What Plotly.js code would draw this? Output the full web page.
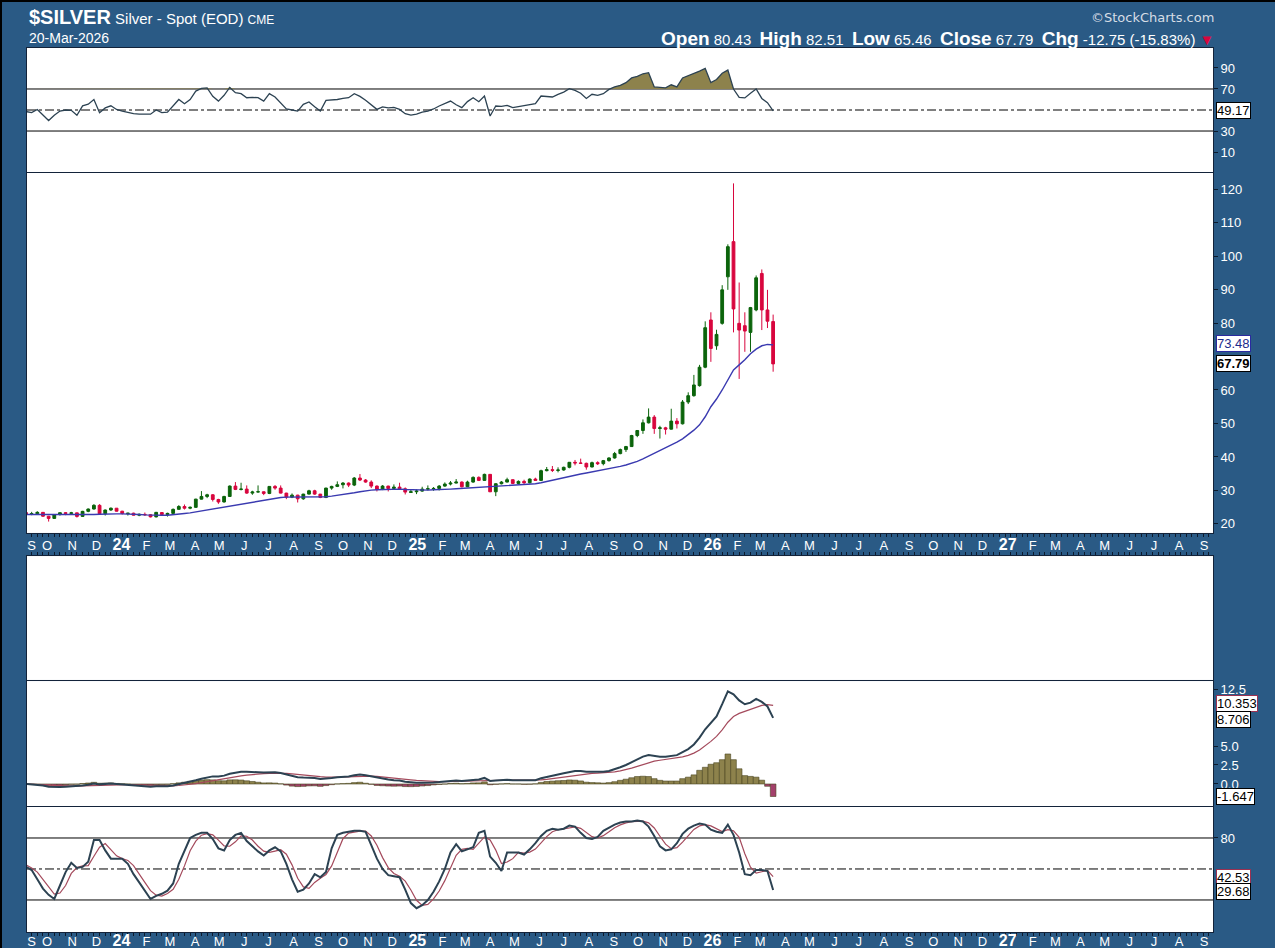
<!DOCTYPE html>
<html><head><meta charset="utf-8">
<script src="https://cdn.plot.ly/plotly-3.0.1.min.js"></script>
<style>
html,body{margin:0;padding:0;background:#000;overflow:hidden;}
#chart{position:absolute;left:0;top:0;width:1273px;height:946px;border-top:2px solid #000;border-left:2px solid #000;}
</style></head><body><div id="chart"></div>
<script>
// Weekly bars (Friday dates)
const weeks = ['2023-09-08','2023-09-15','2023-09-22','2023-09-29','2023-10-06','2023-10-13','2023-10-20','2023-10-27','2023-11-03','2023-11-10','2023-11-17','2023-11-24','2023-12-01','2023-12-08','2023-12-15','2023-12-22','2023-12-29',
'2024-01-05','2024-01-12','2024-01-19','2024-01-26','2024-02-02','2024-02-09','2024-02-16','2024-02-23','2024-03-01','2024-03-08','2024-03-15','2024-03-22','2024-03-29','2024-04-05','2024-04-12','2024-04-19','2024-04-26','2024-05-03','2024-05-10','2024-05-17','2024-05-24','2024-05-31','2024-06-07','2024-06-14','2024-06-21','2024-06-28','2024-07-05','2024-07-12','2024-07-19','2024-07-26','2024-08-02','2024-08-09','2024-08-16','2024-08-23','2024-08-30','2024-09-06','2024-09-13','2024-09-20','2024-09-27','2024-10-04','2024-10-11','2024-10-18','2024-10-25','2024-11-01','2024-11-08','2024-11-15','2024-11-22','2024-11-29','2024-12-06','2024-12-13','2024-12-20','2024-12-27',
'2025-01-03','2025-01-10','2025-01-17','2025-01-24','2025-01-31','2025-02-07','2025-02-14','2025-02-21','2025-02-28','2025-03-07','2025-03-14','2025-03-21','2025-03-28','2025-04-04','2025-04-11','2025-04-18','2025-04-25','2025-05-02','2025-05-09','2025-05-16','2025-05-23','2025-05-30','2025-06-06','2025-06-13','2025-06-20','2025-06-27','2025-07-04','2025-07-11','2025-07-18','2025-07-25','2025-08-01','2025-08-08','2025-08-15','2025-08-22','2025-08-29','2025-09-05','2025-09-12','2025-09-19','2025-09-26','2025-10-03','2025-10-10','2025-10-17','2025-10-24','2025-10-31','2025-11-07','2025-11-14','2025-11-21','2025-11-28','2025-12-05','2025-12-12','2025-12-19','2025-12-26',
'2026-01-02','2026-01-09','2026-01-16','2026-01-23','2026-01-30','2026-02-06','2026-02-13','2026-02-20','2026-02-27','2026-03-06','2026-03-13','2026-03-20'];

const openP = [23.40,22.90,23.05,23.45,22.30,21.65,22.80,23.35,23.15,23.30,
22.25,23.75,24.45,25.55,23.05,24.15,24.70,23.80,23.05,23.20,
22.60,22.85,22.75,22.10,23.40,22.80,23.15,24.35,25.20,24.70,
24.95,27.40,28.20,28.70,27.30,26.55,28.20,31.30,30.30,30.40,
29.20,29.55,29.60,29.10,31.20,30.70,29.20,28.00,28.60,27.50,
28.90,29.90,28.90,27.90,30.70,31.20,31.70,32.20,31.60,33.70,
33.10,32.50,31.30,30.30,31.30,30.60,31.00,30.50,29.40,29.60,
29.80,30.40,30.50,30.60,31.30,31.90,32.20,32.50,31.10,32.50,
33.90,33.00,34.80,29.60,32.00,32.50,33.20,32.10,32.70,32.30,
33.40,33.00,35.90,36.20,36.00,36.10,36.90,38.40,38.20,38.10,
37.00,38.30,38.00,38.90,39.70,41.00,42.20,43.10,46.40,47.90,
50.20,51.90,48.50,48.70,48.30,50.70,49.90,56.40,58.30,61.30,
66.80,80.90,73.20,79.90,93.80,104.30,79.90,79.20,77.20,83.90,
94.80,83.90,80.43];
const highP = [24.00,23.60,23.80,23.55,22.40,22.90,23.40,23.55,23.60,23.35,
23.90,24.60,25.90,25.90,24.30,24.90,24.75,23.90,23.30,23.35,
23.10,23.40,22.95,23.60,23.50,23.35,24.60,25.60,25.80,25.20,
27.50,29.80,29.00,28.90,27.50,28.40,31.50,32.50,32.30,31.50,
29.90,31.50,29.70,31.30,31.60,31.50,29.30,29.10,28.70,29.00,
30.20,30.20,28.95,30.80,31.40,32.70,32.50,32.40,34.00,34.90,
33.40,33.00,31.50,31.60,31.40,31.80,32.30,30.90,30.40,30.30,
31.10,31.50,31.00,31.60,32.40,32.80,33.40,32.70,32.90,34.20,
34.20,35.00,34.90,32.20,32.80,33.80,33.30,33.00,33.20,33.60,
33.80,36.20,37.00,37.30,36.90,37.10,38.50,39.10,39.50,38.30,
38.60,38.70,39.10,39.90,41.50,42.50,43.30,46.60,48.00,51.20,
54.50,52.50,49.30,49.00,54.40,51.60,57.00,59.30,64.50,67.50,
80.50,83.20,78.00,91.30,103.50,121.70,92.10,83.20,84.80,94.20,
96.00,89.90,82.51];
const lowP = [22.85,22.60,23.00,22.10,20.70,21.50,22.50,22.60,22.70,21.90,
22.10,23.50,24.30,22.70,22.50,23.90,23.70,22.80,22.50,22.50,
22.30,22.40,21.95,21.95,22.50,22.20,23.05,24.25,24.30,24.40,
24.80,27.30,27.70,26.70,26.00,26.40,28.10,30.10,30.00,29.00,
28.70,29.40,28.60,28.90,30.20,29.10,27.40,27.70,26.40,27.20,
28.80,28.70,27.70,27.70,30.20,31.00,30.60,31.00,31.30,32.80,
32.30,30.70,29.70,30.10,29.70,30.40,30.40,28.80,29.30,28.90,
29.60,30.00,29.90,30.00,31.10,31.50,32.10,30.90,31.00,32.30,
32.80,32.90,29.50,28.30,31.80,32.40,31.90,31.70,31.70,32.10,
32.90,32.80,35.70,35.50,35.40,35.90,36.60,37.50,37.90,36.20,
36.90,37.60,37.50,38.60,39.50,40.80,41.50,43.00,45.90,46.90,
50.00,46.90,45.50,46.70,48.20,48.50,49.70,55.80,58.00,61.00,
66.50,68.40,72.00,79.50,89.90,77.20,63.30,71.40,71.40,83.50,
77.90,78.50,65.46];
const closeP = [23.00,23.05,23.45,22.30,21.65,22.80,23.35,23.15,23.30,22.25,
23.75,24.45,25.55,23.05,24.15,24.70,23.80,23.15,23.20,22.60,
22.85,22.75,22.10,23.45,22.80,23.15,24.35,25.20,24.70,24.95,
27.40,28.20,28.70,27.30,26.55,28.20,31.30,30.30,30.40,29.20,
29.55,29.60,29.10,31.20,30.70,29.20,28.00,28.60,27.50,28.90,
29.90,28.90,27.90,30.70,31.20,31.70,32.20,31.60,33.70,33.10,
32.50,31.30,30.30,31.30,30.60,31.00,30.50,29.50,29.60,29.80,
30.40,30.50,30.60,31.30,31.90,32.20,32.50,31.10,32.50,33.90,
33.00,34.80,29.60,32.00,32.50,33.20,32.10,32.70,32.30,33.40,
33.00,35.90,36.20,36.00,36.10,36.90,38.40,38.20,38.10,37.00,
38.30,38.00,38.90,39.70,41.00,42.20,43.10,46.40,47.90,50.20,
51.90,48.50,48.70,48.30,50.70,49.90,56.40,58.30,61.50,66.80,
78.60,72.40,76.60,89.90,102.80,84.20,77.90,77.60,84.60,93.50,
83.90,80.54,67.79];

// 20-week moving average
const ma20 = [22.8,22.8,22.7,22.7,22.7,22.6,22.6,22.6,22.6,22.6,
22.6,22.7,22.8,22.9,23.0,23.0,23.0,23.0,23.0,22.9,
22.8,22.7,22.6,22.6,22.6,22.6,22.7,22.9,23.1,23.3,
23.6,23.9,24.2,24.5,24.7,25.0,25.4,25.7,26.0,26.3,
26.6,26.9,27.1,27.4,27.7,27.9,28.0,28.0,28.0,27.9,
27.9,27.9,28.0,28.1,28.3,28.5,28.8,29.0,29.3,29.6,
29.9,30.1,30.2,30.3,30.4,30.4,30.4,30.3,30.2,30.1,
30.1,30.1,30.2,30.2,30.3,30.4,30.5,30.6,30.7,30.9,
31.0,31.2,31.2,31.2,31.3,31.4,31.5,31.6,31.7,31.8,
32.0,32.3,32.7,33.0,33.3,33.7,34.1,34.5,34.9,35.2,
35.5,35.8,36.1,36.4,36.8,37.2,37.6,38.1,38.7,39.4,
40.2,41.0,41.8,42.6,43.5,44.4,45.4,46.6,48.0,49.6,
52.0,55.0,57.3,60.0,63.0,66.0,67.5,69.0,70.8,72.2,
73.2,73.6,73.48];

// RSI(14)
const rsi = [48.5,47.5,50.5,45,40,45,49,50,49.7,45,
54,55.5,60,47.5,52,54,50.5,49,47.5,46.5,
46,46,46,50,47.5,48,54,60,56,60,
68,70.5,71,63,58.5,64,71.5,66.5,65.5,61.7,
62,61.7,58.5,65.5,62.4,57,51,50,49,55.4,
57.6,53,49,59.2,59.5,60,61,61.7,65.5,63,
59.2,55,50.6,53,52,52.5,50.6,46.5,45.2,46,
48,49,51,53.8,56,58.5,55,52.2,58,61.7,
57.9,63.3,44.3,53.8,53.5,54.4,52.2,53,53.8,55,
56,63.3,63,62.4,64.9,67,70.3,68.7,66,61,
65,64,65.5,69.6,72,73.5,76,80.5,82,84.5,
85.5,72,71.5,71,74,72,80.5,82.5,84.5,87,
89.6,76,79,85,88,70,62,61.5,66,70,
61,57,49.17];

// MACD(12,26,9)
const macdLine = [0.0,-0.05,-0.1,-0.2,-0.35,-0.4,-0.4,-0.35,-0.3,-0.3,
-0.2,-0.1,0.05,-0.05,0.0,0.05,0.0,-0.05,-0.1,-0.2,
-0.25,-0.3,-0.35,-0.3,-0.3,-0.3,-0.2,-0.05,0.1,0.3,
0.5,0.7,0.9,1.0,1.0,1.1,1.35,1.5,1.6,1.6,
1.6,1.55,1.5,1.55,1.55,1.45,1.25,1.05,0.9,0.85,
0.85,0.8,0.65,0.7,0.8,0.9,0.95,1.0,1.15,1.25,
1.15,1.0,0.8,0.7,0.6,0.5,0.45,0.3,0.2,0.15,
0.15,0.15,0.2,0.25,0.3,0.4,0.45,0.4,0.45,0.55,
0.6,0.8,0.4,0.45,0.5,0.55,0.5,0.5,0.45,0.45,
0.5,0.75,0.95,1.1,1.25,1.4,1.6,1.7,1.7,1.6,
1.6,1.6,1.6,1.7,1.9,2.2,2.5,2.9,3.3,3.6,
3.8,3.7,3.6,3.6,3.7,3.8,4.2,4.6,5.2,6.1,
7.2,8.0,8.9,10.5,12.2,11.8,11.0,10.5,10.7,11.2,
10.8,10.2,8.706];
const signalLine = [0.0,-0.01,-0.03,-0.06,-0.12,-0.18,-0.22,-0.25,-0.26,-0.27,
-0.26,-0.23,-0.17,-0.15,-0.12,-0.09,-0.07,-0.07,-0.08,-0.10,
-0.13,-0.16,-0.20,-0.22,-0.24,-0.25,-0.24,-0.20,-0.14,-0.05,
0.06,0.19,0.33,0.46,0.57,0.68,0.81,0.95,1.08,1.18,
1.27,1.32,1.36,1.40,1.43,1.43,1.39,1.33,1.24,1.16,
1.10,1.04,0.96,0.91,0.89,0.89,0.90,0.92,0.97,1.02,
1.05,1.04,0.99,0.93,0.87,0.79,0.72,0.64,0.55,0.47,
0.41,0.36,0.32,0.31,0.31,0.33,0.35,0.36,0.38,0.41,
0.45,0.52,0.50,0.49,0.49,0.50,0.50,0.50,0.49,0.48,
0.48,0.54,0.62,0.72,0.82,0.94,1.07,1.20,1.30,1.36,
1.41,1.44,1.48,1.52,1.60,1.72,1.87,2.08,2.32,2.58,
2.82,3.00,3.12,3.21,3.31,3.41,3.57,3.77,4.06,4.47,
5.01,5.61,6.27,7.11,8.13,8.87,9.29,9.53,9.77,10.10,
10.35,10.45,10.353];
const macdHist = [0.0,-0.04,-0.07,-0.14,-0.23,-0.22,-0.18,-0.10,-0.04,-0.03,
0.06,0.13,0.22,0.10,0.12,0.14,0.07,0.02,-0.02,-0.10,
-0.12,-0.14,-0.15,-0.08,-0.06,-0.05,0.04,0.15,0.24,0.35,
0.44,0.51,0.57,0.54,0.43,0.42,0.54,0.55,0.52,0.42,
0.33,0.23,0.14,0.15,0.12,0.02,-0.14,-0.28,-0.34,-0.31,
-0.25,-0.24,-0.31,-0.21,-0.09,0.01,0.05,0.08,0.18,0.23,
0.10,-0.04,-0.19,-0.23,-0.27,-0.29,-0.27,-0.34,-0.35,-0.32,
-0.26,-0.21,-0.12,-0.06,-0.01,0.07,0.10,0.04,0.07,0.14,
0.15,0.28,-0.10,-0.04,0.01,0.05,0.0,0.0,-0.04,-0.03,
0.02,0.21,0.33,0.38,0.43,0.46,0.53,0.50,0.40,0.24,
0.19,0.16,0.12,0.18,0.30,0.48,0.63,0.82,0.98,1.02,
0.98,0.70,0.48,0.39,0.39,0.39,0.70,0.90,1.20,1.80,
2.20,2.60,2.80,3.20,3.95,3.20,2.00,1.10,1.00,0.90,
0.50,-0.30,-1.647];

// Slow Stochastic
const stochK = [52,49,40,31,25,21,34,47,56,51,
52,57,78,78,68,60,60,60,55,45,
37,29,21,24,26,29,36,55,68,80,
83,85,85,79,70,68,78,83,85,77,
72,67,63,68,71,67,55,40,28,30,
36,45,42,47,70,83,85,86,87,87,
86,73,60,50,44,43,42,30,17,12,
15,20,28,38,50,66,74,67,69,71,
85,87,62,56,48,66,66,66,64,69,
75,82,87,89,88,89,92,91,85,80,
79,81,87,90,93,95,96,96,97,96,
91,82,72,68,69,75,84,89,92,94,
93,88,86,85,93,83,66,45,44,49,
49,48,29.68];
const stochD = [54,51,47,40,32,25.7,26.7,34,45.7,51.3,
53,53.3,62.3,71,74.7,68.7,62.7,60,58.3,53.3,
45.7,37,29,24.7,23.7,26.3,30.3,40,53,67.7,
77,82.7,84.3,83,78,72.3,72,76.3,82,81.7,
78,72,67.3,66,67.3,68.7,64.3,54,41,32.7,
31.3,37,41,44.7,53,66.7,79.3,84.7,86,86.7,
86.7,82,73,61,51.3,45.7,43,38.3,29.7,19.7,
14.7,15.7,21,28.7,38.7,51.3,63.3,69,70,69,
75,81,78,68.3,55.3,56.7,60,66,65.3,66.3,
69.3,75.3,81.3,86,88,88.7,89.7,90.7,89.3,85.3,
81.3,80,82.3,86,90,92.7,94.7,95.7,96.3,96.3,
94.7,89.7,81.7,74,69.7,70.7,76,82.7,88.3,91.7,
93,91.7,89,86.3,88,87,80.7,64.7,51.7,46,
47.3,48.7,42.53];

// Month tick labels
const monthTicks = ['2023-09-15','2023-10-04','2023-11-04','2023-12-04',
'2024-01-04','2024-02-04','2024-03-04','2024-04-04','2024-05-04','2024-06-04','2024-07-04','2024-08-04','2024-09-04','2024-10-04','2024-11-04','2024-12-04',
'2025-01-04','2025-02-04','2025-03-04','2025-04-04','2025-05-04','2025-06-04','2025-07-04','2025-08-04','2025-09-04','2025-10-04','2025-11-04','2025-12-04',
'2026-01-04','2026-02-04','2026-03-04','2026-04-04','2026-05-04','2026-06-04','2026-07-04','2026-08-04','2026-09-04','2026-10-04','2026-11-04','2026-12-04',
'2027-01-04','2027-02-04','2027-03-04','2027-04-04','2027-05-04','2027-06-04','2027-07-04','2027-08-04','2027-09-04'];
const YR = s => '<b><span style="font-size:16px">' + s + '</span></b>';
const monthLabels = ['S','O','N','D',
YR('24'),'F','M','A','M','J','J','A','S','O','N','D',
YR('25'),'F','M','A','M','J','J','A','S','O','N','D',
YR('26'),'F','M','A','M','J','J','A','S','O','N','D',
YR('27'),'F','M','A','M','J','J','A','S'];

// ---------- styling ----------
const BLUE = '#2a5a85';
const FRAME = '#13233a';
const NARROW = "'Liberation Sans Narrow','Arial Narrow','Liberation Sans',Arial,sans-serif";
const SANS = "'Liberation Sans',Arial,sans-serif";
const UP = '#0b640b', DOWN = '#d8063e';
const OLIVE = '#8d824c', MAROON = '#a3406b';
const LINE_DARK = '#2c4252', LINE_RED = '#a44a5c';
const WEEK = 7 * 86400000;
const xRange = ['2023-09-09 06:00', '2027-09-15'];

const xBase = {type:'date', range:xRange, showgrid:false, zeroline:false, showline:true, mirror:true,
  linecolor:FRAME, linewidth:1, fixedrange:true, ticks:'', showticklabels:false};
const minorTicks = {ticks:'outside', ticklen:3, tickmode:'linear', tick0:'2023-09-08', dtick:WEEK, tickcolor:'#0c1a2c', tickwidth:1, showgrid:false};
const labelAxis = {tickmode:'array', tickvals:monthTicks, ticktext:monthLabels, showticklabels:true,
  tickfont:{color:'#ffffff', size:13, family:SANS}, ticklabelstandoff:0, minor:minorTicks};
const yBase = {side:'right', showgrid:false, zeroline:false, showline:true, mirror:true, linecolor:FRAME,
  linewidth:1, ticks:'outside', ticklen:4, tickcolor:'#0c1a2c', tickfont:{color:'#ffffff', size:13, family:NARROW}, fixedrange:true};

const rsiTop = rsi.map(v => Math.max(v, 70));
const rsiBase = rsi.map(() => 70);

const traces = [
  {x:weeks, y:rsiBase, xaxis:'x', yaxis:'y', mode:'lines', line:{width:0, color:'rgba(0,0,0,0)'}, hoverinfo:'skip', showlegend:false},
  {x:weeks, y:rsiTop, xaxis:'x', yaxis:'y', mode:'lines', fill:'tonexty', fillcolor:OLIVE, line:{width:0, color:OLIVE}, hoverinfo:'skip', showlegend:false},
  {x:weeks, y:rsi, xaxis:'x', yaxis:'y', mode:'lines', line:{color:LINE_DARK, width:1.3}, showlegend:false},
  {type:'candlestick', x:weeks, open:openP, high:highP, low:lowP, close:closeP, xaxis:'x2', yaxis:'y2', whiskerwidth:0,
    increasing:{line:{color:UP, width:1}, fillcolor:UP}, decreasing:{line:{color:DOWN, width:1}, fillcolor:DOWN}, showlegend:false, hoverinfo:'skip'},
  {x:weeks, y:ma20, xaxis:'x2', yaxis:'y2', mode:'lines', line:{color:'#3a3ab0', width:1.4}, showlegend:false},
  // empty (volume-style) panel: an empty trace so the subplot and its white background are drawn
  {x:[], y:[], xaxis:'x3', yaxis:'y3', type:'scatter', mode:'lines', showlegend:false},
  {type:'bar', x:weeks, y:macdHist, xaxis:'x4', yaxis:'y4', width:WEEK,
    marker:{color:macdHist.map(v => v >= 0 ? OLIVE : MAROON), line:{color:'#4a4420', width:0.6}}, showlegend:false},
  {x:weeks, y:signalLine, xaxis:'x4', yaxis:'y4', mode:'lines', line:{color:LINE_RED, width:1.2}, showlegend:false},
  {x:weeks, y:macdLine, xaxis:'x4', yaxis:'y4', mode:'lines', line:{color:LINE_DARK, width:2}, showlegend:false},
  {x:weeks, y:stochD, xaxis:'x5', yaxis:'y5', mode:'lines', line:{color:LINE_RED, width:1.2}, showlegend:false},
  {x:weeks, y:stochK, xaxis:'x5', yaxis:'y5', mode:'lines', line:{color:LINE_DARK, width:2}, showlegend:false}
];

function hline(xref, yref, y, dash) {
  return {type:'line', xref:xref + ' domain', yref:yref, x0:0, x1:1, y0:y, y1:y, layer:'below',
    line:{color:'#000', width:1, dash:dash || 'solid'}};
}
const shapes = [
  hline('x','y',70), hline('x','y',30), hline('x','y',50,'dashdot'),
  hline('x5','y5',80), hline('x5','y5',20), hline('x5','y5',50,'dashdot')
];

function tag(yref, y, text, border, color, bold, yshift) {
  return {xref:'paper', x:1, xanchor:'left', xshift:3, yref:yref, y:y, yanchor:'middle', yshift:yshift || 0, showarrow:false,
    text: bold ? '<b>' + text + '</b>' : text, bgcolor:'#ffffff', bordercolor:border, borderwidth:1, borderpad:0,
    font:{family:NARROW, size:13, color:color}};
}
const hdr = (x, y, text, anchor, font) => ({xref:'paper', yref:'paper', x:x, y:y, xanchor:anchor, yanchor:'middle',
  showarrow:false, text:text, font:font});
const B = s => '<b><span style="font-size:19px">' + s + '</span></b>';

const annotations = [
  hdr(0, 1.0351, '<b><span style="font-size:20px">$SILVER</span></b> Silver - Spot (EOD) <span style="font-size:12px">CME</span>', 'left', {family:NARROW, size:15, color:'#ffffff'}),
  hdr(0, 1.0113, '20-Mar-2026', 'left', {family:NARROW, size:14, color:'#ffffff'}),
  hdr(1.0025, 1.034, '\u00A9StockCharts.com', 'right', {family:"'DejaVu Sans',sans-serif", size:13, color:'#d7dee6'}),
  hdr(1.0025, 1.0113, B('Open') + ' 80.43  ' + B('High') + ' 82.51  ' + B('Low') + ' 65.46  ' + B('Close') + ' 67.79  ' + B('Chg') + ' -12.75 (-15.83%) <span style="color:#d8063e">\u25BC</span>', 'right', {family:NARROW, size:15, color:'#ffffff'}),
  tag('y', 49.17, '49.17', '#000', '#000'),
  tag('y2', 74.0, '73.48', '#2a2aa0', '#1c2a8c'),
  tag('y2', 67.79, '67.79', '#000', '#000', true),
  tag('y4', 10.35, '10.353', '#9b3050', '#000', false, 2),
  tag('y4', 8.7, '8.706', '#000', '#000', false, -2),
  tag('y4', -1.647, '-1.647', '#000', '#000'),
  tag('y5', 41.5, '42.53', '#9b3050', '#000'),
  tag('y5', 28.2, '29.68', '#000', '#000')
];

const layout = {
  width:1273, height:946,
  margin:{l:25, r:62, t:46, b:16, pad:0},
  paper_bgcolor:BLUE, plot_bgcolor:'#ffffff',
  showlegend:false, hovermode:false, bargap:0,
  font:{family:SANS, color:'#ffffff'},
  xaxis: Object.assign({}, xBase, {anchor:'y'}),
  yaxis: Object.assign({}, yBase, {anchor:'x', domain:[0.8597,1], range:[-9,109], tickvals:[10,30,70,90]}),
  xaxis2: Object.assign({}, xBase, labelAxis, {anchor:'y2', rangeslider:{visible:false}}),
  yaxis2: Object.assign({}, yBase, {anchor:'x2', domain:[0.4514,0.8586], range:[17.3,124.8], tickvals:[20,30,40,50,60,80,90,100,110,120]}),
  xaxis3: Object.assign({}, xBase, {anchor:'y3', side:'top', minor:minorTicks}),
  yaxis3: Object.assign({}, yBase, {anchor:'x3', domain:[0.2851,0.4253], range:[0,1], ticks:'', showticklabels:false}),
  xaxis4: Object.assign({}, xBase, {anchor:'y4'}),
  yaxis4: Object.assign({}, yBase, {anchor:'x4', domain:[0.1425,0.2839], range:[-2.9,13.55], tickvals:[0,2.5,5,12.5], tickformat:'.1f'}),
  xaxis5: Object.assign({}, xBase, labelAxis, {anchor:'y5', ticklabelstandoff:-3}),
  yaxis5: Object.assign({}, yBase, {anchor:'x5', domain:[0,0.1414], range:[-11,110], tickvals:[80]}),
  shapes:shapes,
  annotations:annotations
};

Plotly.newPlot('chart', traces, layout, {staticPlot:true, displayModeBar:false});
</script>
</body></html>
